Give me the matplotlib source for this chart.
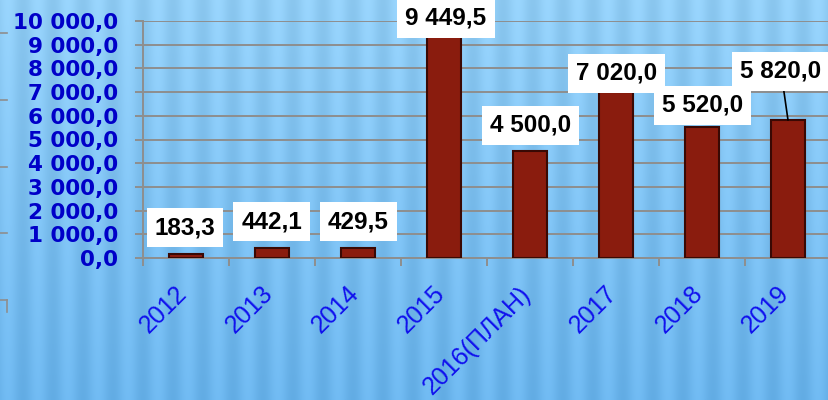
import numpy as np
import matplotlib
matplotlib.use('Agg')
import matplotlib.pyplot as plt
from matplotlib.lines import Line2D
from matplotlib.transforms import ScaledTranslation

# ---- data ----
categories = ['2012', '2013', '2014', '2015', '2016(ПЛАН)', '2017', '2018', '2019']
values = [183.3, 442.1, 429.5, 9449.5, 4500.0, 7020.0, 5520.0, 5820.0]
value_labels = ['183,3', '442,1', '429,5', '9 449,5', '4 500,0', '7 020,0', '5 520,0', '5 820,0']
yticks = [0, 1000, 2000, 3000, 4000, 5000, 6000, 7000, 8000, 9000, 10000]
ytick_labels = ['0,0', '1 000,0', '2 000,0', '3 000,0', '4 000,0', '5 000,0',
                '6 000,0', '7 000,0', '8 000,0', '9 000,0', '10 000,0']

# label offsets (pixels) of box centre relative to bar top
label_offsets = [(-1, 26), (-0.5, 26), (0.5, 26), (2, 16), (0.5, 26), (0.5, 18.6), (0.5, 22), (-7, 49)]
leader = [False, False, False, False, False, False, False, True]

W, H = 829, 400
fig = plt.figure(figsize=(W / 100, H / 100), dpi=100)

# ---- background ----
bg = fig.add_axes([0, 0, 1, 1], zorder=0)
yy = np.linspace(0, 1, H)[:, None, None]
xx = np.arange(W)[None, :, None]
top = np.array([146, 206, 246]) / 255
bot = np.array([106, 180, 236]) / 255
base = top * (1 - yy) + bot * yy
stripe = 0.03 * np.sin(2 * np.pi * xx / 30.0)
img = np.clip(base + stripe, 0, 1)
bg.imshow(img, aspect='auto', extent=[0, 1, 0, 1], interpolation='bilinear')
bg.axis('off')

grid_col = '#8e8e8e'

# faint remnants at the left edge
for yp in [33, 100, 167, 233, 300]:
    fig.add_artist(Line2D([0, 7 / W], [1 - yp / H] * 2, transform=fig.transFigure,
                          color=grid_col, lw=1.2))
fig.add_artist(Line2D([7 / W, 7 / W], [1 - 300 / H, 1 - 312 / H], transform=fig.transFigure,
                      color=grid_col, lw=1.2))

# ---- main axes ----
ax = fig.add_axes([143 / W, 142 / H, 688 / W, 237 / H], zorder=1)
ax.set_facecolor('none')
x = np.arange(len(categories))
ax.bar(x, values, width=0.4, color='#8a1c0e', edgecolor='#3a0904', linewidth=1.5, zorder=3)
ax.set_xlim(-0.5, len(categories) - 0.5)
ax.set_ylim(0, 10000)

ax.set_yticks(yticks, ytick_labels)
ax.yaxis.grid(True, color=grid_col, lw=1.4)
ax.set_axisbelow(True)
ax.tick_params(axis='y', length=6, width=1.4, color=grid_col, pad=12,
               labelsize=15.5, labelcolor='#0000c8')
for t in ax.get_yticklabels():
    t.set_fontweight('bold')
    t.set_family('DejaVu Sans')

ax.set_xticks(np.arange(-0.5, len(categories), 1.0))
ax.set_xticklabels([])
ax.tick_params(axis='x', which='major', length=6, width=1.4, color=grid_col)
ax.set_xticks(x, categories, minor=True)
ax.tick_params(axis='x', which='minor', length=0, pad=17, labelsize=18, labelcolor='#1010ee')
off = ScaledTranslation(-11 / 100, 0, fig.dpi_scale_trans)
for t in ax.get_xticklabels(minor=True):
    t.set_rotation(45)
    t.set_ha('right')
    t.set_va('top')
    t.set_rotation_mode('anchor')
    t.set_family('Liberation Sans')
    t.set_transform(t.get_transform() + off)

for s in ['top', 'right']:
    ax.spines[s].set_visible(False)
for s in ['left', 'bottom']:
    ax.spines[s].set_color(grid_col)
    ax.spines[s].set_linewidth(1.4)

# ---- data labels ----
for i, (v, lab) in enumerate(zip(values, value_labels)):
    dx, dy = label_offsets[i]
    kw = {}
    if leader[i]:
        kw['arrowprops'] = dict(arrowstyle='-', color='black', lw=1.2, shrinkA=0, shrinkB=0)
    ax.annotate(lab, xy=(i, v), xytext=(dx, dy), textcoords='offset pixels',
                ha='center', va='center', fontsize=17.5, family='Liberation Sans',
                fontweight='bold', color='black', zorder=5, annotation_clip=False,
                bbox=dict(boxstyle='square,pad=0.33', fc='white', ec='none'), **kw)

fig.savefig('out.png', dpi=100)
